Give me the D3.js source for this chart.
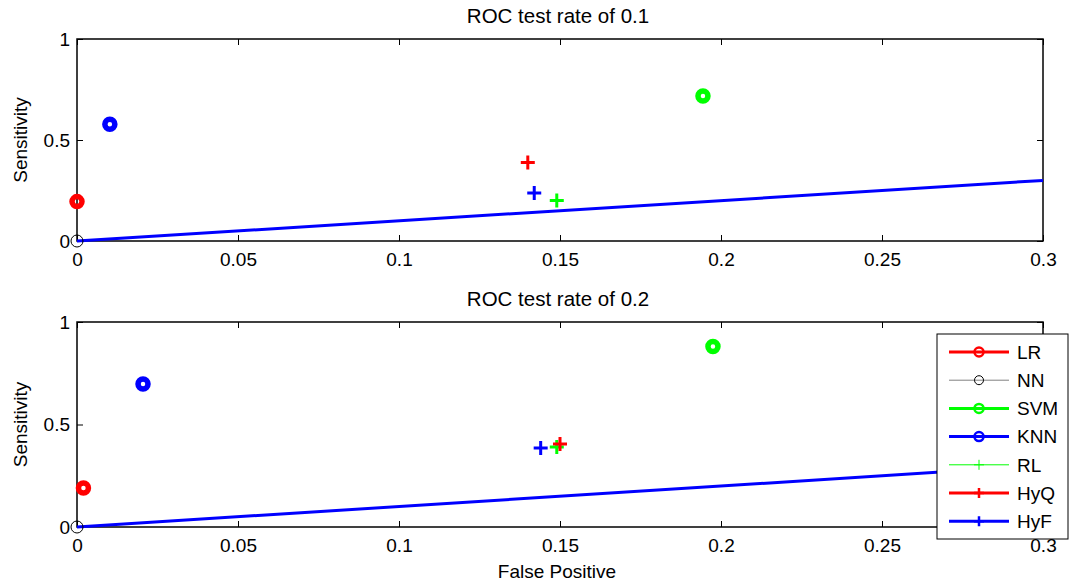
<!DOCTYPE html>
<html>
<head>
<meta charset="utf-8">
<script src="https://cdn.jsdelivr.net/npm/d3@7"></script>
<style>
  body { margin: 0; background: #fff; }
  svg { display: block; font-family: "Liberation Sans", Arial, sans-serif; }
</style>
</head>
<body>
<svg id="chart" width="1072" height="586"></svg>
<script>
// ROC operating points for each classifier at two test rates
const methods = ["LR", "NN", "SVM", "KNN", "RL", "HyQ", "HyF"];
const methodColors = ["#ff0000", "#000000", "#00ff00", "#0000ff", "#00ff00", "#ff0000", "#0000ff"];
const methodMarkers = ["circle", "ncircle", "circle", "circle", "plus", "plus", "plus"];

const fpRate01 = [0.0, 0.0, 0.1944, 0.0102, 0.149, 0.140, 0.142];
const sensRate01 = [0.195, 0.0, 0.718, 0.578, 0.200, 0.388, 0.238];

const fpRate02 = [0.002, 0.0, 0.1975, 0.0205, 0.149, 0.150, 0.144];
const sensRate02 = [0.190, 0.0, 0.880, 0.698, 0.390, 0.405, 0.385];

const xTicks = [0, 0.05, 0.1, 0.15, 0.2, 0.25, 0.3];
const yTicks = [0, 0.5, 1];
const refLineX = [0, 0.3];

const FS = 19;
const panels = [
  { title: "ROC test rate of 0.1", fp: fpRate01, sens: sensRate01, top: 39, bottom: 241 },
  { title: "ROC test rate of 0.2", fp: fpRate02, sens: sensRate02, top: 322, bottom: 527 }
];

const svg = d3.select("#chart");
const left = 77, right = 1043;
const x = d3.scaleLinear().domain([0, 0.3]).range([left, right]);

function drawMarker(g, type, color, cx, cy, legend) {
  if (type === "circle") {
    g.append("circle").attr("cx", cx).attr("cy", cy)
      .attr("r", legend ? 4.5 : 5)
      .attr("fill", "none").attr("stroke", color)
      .attr("stroke-width", legend ? 2.5 : 5.5);
  } else if (type === "ncircle") {
    g.append("circle").attr("cx", cx).attr("cy", cy).attr("r", legend ? 4.5 : 6)
      .attr("fill", "none").attr("stroke", color).attr("stroke-width", 1);
  } else {
    const s = legend ? 5 : 7;
    const w = legend ? (color === "#00ff00" ? 1 : 2.5) : 3;
    g.append("path")
      .attr("d", `M${cx - s},${cy}H${cx + s}M${cx},${cy - s}V${cy + s}`)
      .attr("stroke", color).attr("stroke-width", w).attr("fill", "none");
  }
}

panels.forEach(p => {
  const y = d3.scaleLinear().domain([0, 1]).range([p.bottom, p.top]);
  const g = svg.append("g");

  // axis box
  g.append("rect").attr("x", left).attr("y", p.top)
    .attr("width", right - left).attr("height", p.bottom - p.top)
    .attr("fill", "none").attr("stroke", "#000").attr("stroke-width", 1.5);

  // bottom axis with labels
  const xAxis = d3.axisBottom(x).tickValues(xTicks).tickSize(-6)
    .tickFormat(d => d3.format("")(d)).tickPadding(12);
  const gx = g.append("g").attr("transform", `translate(0,${p.bottom})`).call(xAxis);
  gx.select(".domain").remove();
  gx.selectAll("text").attr("font-size", FS).attr("fill", "#000")
    .attr("font-family", "Liberation Sans, Arial, sans-serif");

  // top ticks
  const gxt = g.append("g").attr("transform", `translate(0,${p.top})`)
    .call(d3.axisTop(x).tickValues(xTicks).tickSize(-6).tickFormat(""));
  gxt.select(".domain").remove();

  // left axis with labels
  const yAxis = d3.axisLeft(y).tickValues(yTicks).tickSize(-6)
    .tickFormat(d => d3.format("")(d)).tickPadding(7);
  const gy = g.append("g").attr("transform", `translate(${left},0)`).call(yAxis);
  gy.select(".domain").remove();
  gy.selectAll("text").attr("font-size", FS).attr("fill", "#000")
    .attr("font-family", "Liberation Sans, Arial, sans-serif");

  // right ticks
  const gyr = g.append("g").attr("transform", `translate(${right},0)`)
    .call(d3.axisRight(y).tickValues(yTicks).tickSize(-6).tickFormat(""));
  gyr.select(".domain").remove();

  // title
  g.append("text").attr("x", 558).attr("y", p.top - 16)
    .attr("text-anchor", "middle").attr("font-size", 20.5).text(p.title);

  // y label
  g.append("text")
    .attr("transform", `translate(27,${(p.top + p.bottom) / 2}) rotate(-90)`)
    .attr("text-anchor", "middle").attr("font-size", FS).text("Sensitivity");

  // chance reference line
  g.append("line")
    .attr("x1", x(refLineX[0])).attr("y1", y(refLineX[0]))
    .attr("x2", x(refLineX[1])).attr("y2", y(refLineX[1]))
    .attr("stroke", "#0000ff").attr("stroke-width", 3);

  // classifier points
  methods.forEach((m, i) => {
    drawMarker(g, methodMarkers[i], methodColors[i], x(p.fp[i]), y(p.sens[i]), false);
  });
});

// x label
svg.append("text").attr("x", 557).attr("y", 578)
  .attr("text-anchor", "middle").attr("font-size", FS).text("False Positive");

// legend
const lg = svg.append("g");
lg.append("rect").attr("x", 937).attr("y", 334).attr("width", 131).attr("height", 205)
  .attr("fill", "#fff").attr("stroke", "#000").attr("stroke-width", 1);
const legendLineColors = ["#ff0000", "#808080", "#00ff00", "#0000ff", "#00ff00", "#ff0000", "#0000ff"];
methods.forEach((m, i) => {
  const cy = 352 + i * 28.2;
  const thin = m === "NN" || m === "RL";
  lg.append("line").attr("x1", 949).attr("x2", 1009).attr("y1", cy).attr("y2", cy)
    .attr("stroke", legendLineColors[i]).attr("stroke-width", thin ? 1 : 3);
  drawMarker(lg, methodMarkers[i], methodColors[i], 979, cy, true);
  lg.append("text").attr("x", 1017).attr("y", cy).attr("dy", "0.36em")
    .attr("font-size", FS).text(m);
});
</script>
</body>
</html>
